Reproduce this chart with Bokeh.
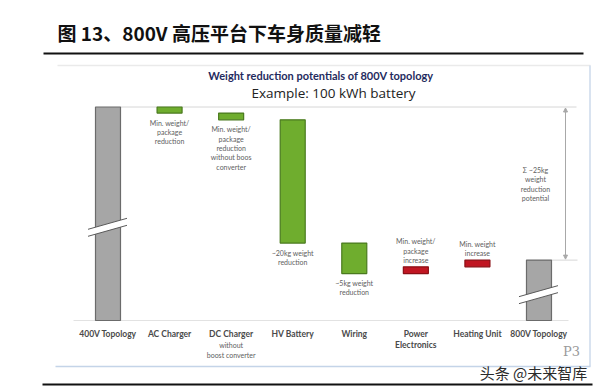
from bokeh.plotting import figure
from bokeh.models import Range1d, Label, Arrow, NormalHead
from bokeh.core.properties import value
from bokeh.embed import file_html
from bokeh.resources import INLINE

# ---------------- data ----------------
categories = ["400V Topology", "AC Charger", "DC Charger", "HV Battery",
              "Wiring", "Power Electronics", "Heating Unit", "800V Topology"]
label_line1 = ["400V Topology", "AC Charger", "DC Charger", "HV Battery",
               "Wiring", "Power", "Heating Unit", "800V Topology"]
label_line2 = ["", "", "without", "", "", "Electronics", "", ""]
label_line3 = ["", "", "boost converter", "", "", "", "", ""]
start_weight = 35.0                                   # 400V topology (axis broken)
deltas = [-1.0, -1.1, -20.2, -5.0, 1.1, 1.1]          # kg change per component
notes = [
    [],
    ["Min. weight/", "package", "reduction"],
    ["Min. weight/", "package", "reduction", "without boos", "converter"],
    ["~20kg weight", "reduction"],
    ["~5kg weight", "reduction"],
    ["Min. weight/", "package", "increase"],
    ["Min. weight", "increase"],
    [],
]
total_note = ["\u03a3 ~25kg", "weight", "reduction", "potential"]

# ---------------- layout helpers ----------------
W, H = 600, 389
XS, X0 = 61.57, 107.5     # px per category, px of first category centre
PXK, Y0 = 6.1, 320.0      # px per kg, px (from top) of 0 kg


def X(px):
    return (px - X0) / XS


def Y(py):
    return (Y0 - py) / PXK


p = figure(width=W, height=H, output_backend="svg", toolbar_location=None,
           x_range=Range1d(X(0), X(W)), y_range=Range1d(Y(H), Y(0)),
           x_axis_location=None, y_axis_location=None,
           min_border=0, min_border_left=0, min_border_right=0,
           min_border_top=0, min_border_bottom=0)
p.grid.visible = False
p.outline_line_color = None
p.background_fill_color = "white"
p.border_fill_color = "white"

# ---------------- waterfall bars ----------------
GRAY, GRAY_L = "#A6A6A6", "#6B6B6B"
GREEN, GREEN_L = "#6FAD2E", "#4A7A1E"
RED, RED_L = "#C01622", "#8A0F15"

xs, bottoms, tops, fills, lines = [0], [0.0], [start_weight], [GRAY], [GRAY_L]
level = start_weight
for i, d in enumerate(deltas):
    new = level + d
    xs.append(i + 1)
    bottoms.append(min(level, new))
    tops.append(max(level, new))
    fills.append(GREEN if d < 0 else RED)
    lines.append(GREEN_L if d < 0 else RED_L)
    level = new
final_weight = level
xs.append(len(categories) - 1)
bottoms.append(0.0)
tops.append(final_weight)
fills.append(GRAY)
lines.append(GRAY_L)

BW = 25 / XS
dx = 1 / XS
dk = 1 / PXK

# guide lines / panel frame
p.segment(x0=[X(57)], y0=[Y(65)], x1=[X(590)], y1=[Y(65)],
          line_color="#EAEAEA", line_width=1.5)
p.segment(x0=[X(589.5)], y0=[Y(65)], x1=[X(589.5)], y1=[Y(366)],
          line_color="#CCDAEB", line_width=1.5)
p.segment(x0=[X(55)], y0=[Y(366)], x1=[X(590)], y1=[Y(366)],
          line_color="#C4D4E8", line_width=1.5)
p.segment(x0=[X(73)], y0=[0], x1=[X(568)], y1=[0], line_color="#E2E2E2", line_width=1)
p.segment(x0=[0 + BW / 2], y0=[start_weight], x1=[X(576)], y1=[start_weight],
          line_color="#D6D6D6", line_width=1)
p.segment(x0=[len(categories) - 1 + BW / 2], y0=[final_weight], x1=[X(577)],
          y1=[final_weight], line_color="#D6D6D6", line_width=1)

p.vbar(x=xs, bottom=bottoms, top=tops, width=BW, fill_color=fills,
       line_color=lines, line_width=1.2)

# axis-break marks on the two topology bars
for c, yc in [(0, 15.3), (len(categories) - 1, 4.26)]:
    xl, xr = c - 20 * dx, c + 19 * dx
    rise = 11.0 / 39.0

    def yy(xp, off):
        return yc + (off + rise * (xp - c) / dx) * dk
    lo_l, lo_r = yy(xl, -3.5), yy(xr, -3.5)
    up_l, up_r = yy(xl, 3.5), yy(xr, 3.5)
    p.patch(x=[xl, xr, xr, xl], y=[lo_l, lo_r, up_r, up_l],
            fill_color="white", line_color=None)
    p.segment(x0=[xl, xl], y0=[lo_l, up_l], x1=[xr, xr], y1=[lo_r, up_r],
              line_color="#5A5A5A", line_width=1)

# ---------------- annotations next to bars ----------------
LS = 9.3
nx, ny, nt = [], [], []
for i, lines_i in enumerate(notes):
    if not lines_i:
        continue
    d = deltas[i - 1]
    n = len(lines_i)
    for k, t in enumerate(lines_i):
        if d < 0:
            y = bottoms[i] - (9.5 + k * LS) * dk
        else:
            y = tops[i] + (7 + (n - 1 - k) * LS) * dk
        nx.append(xs[i])
        ny.append(y)
        nt.append(t)
p.text(x=nx, y=ny, text=nt, text_font=value("Lato"), text_font_size="7px",
       text_align="center", text_baseline="middle", text_color="#5E5E5E")

# category labels
cx = list(range(len(categories)))
p.text(x=cx, y=[-13 * dk] * len(cx), text=label_line1, text_font=value("Lato"),
       text_font_size="8.5px", text_font_style="bold", text_align="center",
       text_baseline="middle", text_color="#4A4A4A")
p.text(x=[c for c, t in zip(cx, label_line2) if t == "Electronics"],
       y=[-24 * dk], text=["Electronics"], text_font=value("Lato"),
       text_font_size="8.5px", text_font_style="bold", text_align="center",
       text_baseline="middle", text_color="#4A4A4A")
sub_x = [c for c, t in zip(cx, label_line2) if t == "without"]
p.text(x=sub_x + sub_x, y=[-24 * dk, -34 * dk],
       text=["without", [t for t in label_line3 if t][0]],
       text_font=value("Lato"), text_font_size="7px", text_align="center",
       text_baseline="middle", text_color="#5E5E5E")

# total reduction arrow + text
p.add_layout(Arrow(x_start=X(565), y_start=final_weight + 1.0 * dk,
                   x_end=X(565), y_end=start_weight - 1.0 * dk,
                   line_color="#A8A8A8", line_width=1,
                   start=NormalHead(size=4, fill_color="#A8A8A8", line_color="#A8A8A8"),
                   end=NormalHead(size=4, fill_color="#A8A8A8", line_color="#A8A8A8")))
p.text(x=[X(535)] * 4, y=[Y(169), Y(178.5), Y(188), Y(197.5)], text=total_note,
       text_font=value("Lato"), text_font_size="7px", text_align="center",
       text_baseline="middle", text_color="#5E5E5E")

# ---------------- headings & decorations ----------------
p.segment(x0=[X(43), X(42)], y0=[Y(53), Y(384)], x1=[X(583), X(592)],
          y1=[Y(53), Y(384)], line_color="#111111", line_width=2)

p.add_layout(Label(x=X(57), y=Y(32), text="图 13、800V 高压平台下车身质量减轻",
                   text_font="Noto Sans CJK SC", text_font_size="19px",
                   text_font_style="bold", text_color="#111111",
                   text_baseline="middle", text_align="left"))
p.add_layout(Label(x=X(320.5), y=Y(75), text="Weight reduction potentials of 800V topology",
                   text_font="Lato", text_font_size="11px", text_font_style="bold",
                   text_color="#1F2B5E", text_baseline="middle", text_align="center"))
p.add_layout(Label(x=X(333), y=Y(92), text="Example: 100 kWh battery",
                   text_font="Open Sans", text_font_size="13.5px",
                   text_color="#222222", text_baseline="middle", text_align="center"))
p.add_layout(Label(x=X(571), y=Y(351), text="P3", text_font="DejaVu Serif",
                   text_font_size="13px", text_color="#9A9A9A",
                   text_baseline="middle", text_align="center"))
p.add_layout(Label(x=X(533), y=Y(372), text="头条 @未来智库",
                   text_font="Noto Sans CJK SC", text_font_size="15px",
                   text_color="#2A2A2A", text_baseline="middle", text_align="center"))

open("out.html", "w").write(file_html(p, INLINE))
